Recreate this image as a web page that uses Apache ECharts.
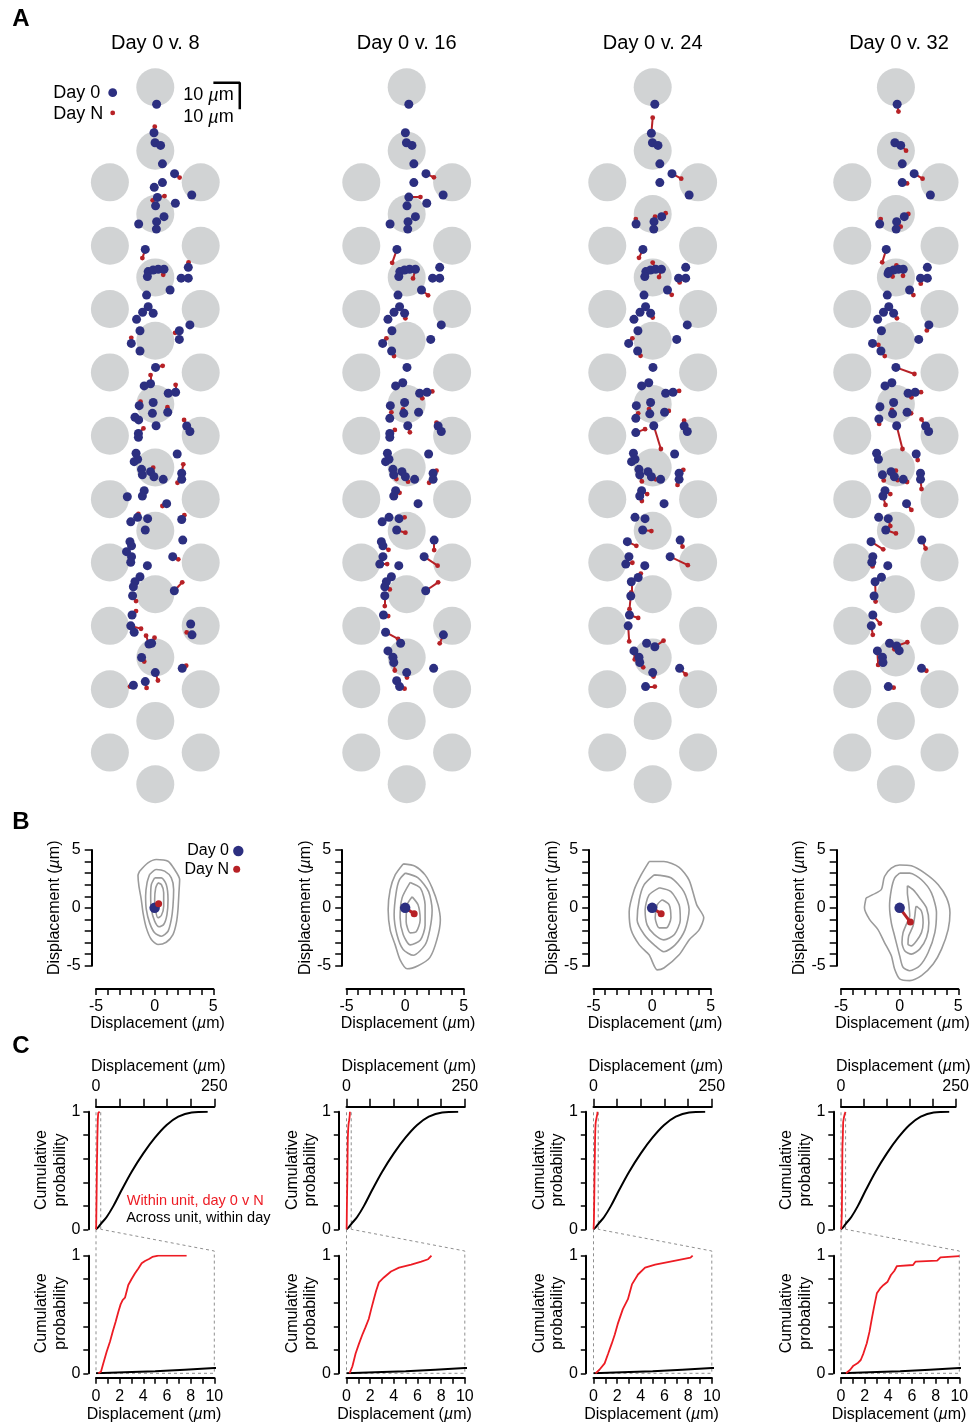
<!DOCTYPE html>
<html><head><meta charset="utf-8">
<script src="https://cdn.jsdelivr.net/npm/echarts@6/dist/echarts.min.js"></script>
<style>html,body{margin:0;padding:0;background:#fff}#c{width:972px;height:1425px}</style>
</head><body><div id="c"></div>
<script>
// ---------------- DATA ----------------
const titles = ['Day 0 v. 8', 'Day 0 v. 16', 'Day 0 v. 24', 'Day 0 v. 32'];
// recording-site layout (µm): centre column depths, side columns depths, side x
const siteCenterDepth = [0, 24, 48, 72, 96, 120, 144, 168, 192, 216, 240, 264];
const siteSideDepth = [36, 60, 84, 108, 132, 156, 180, 204, 228, 252];
const siteSideX = [-17.2, 17.2];
const scaleBarUm = 10;
// units: [x day0, depth day0, dx to day N, ddepth to day N]  (µm)
const unitsDay8 = [
[0.5,6.4,0,0],[-0.5,17.2,0.3,-2.3],[-0.1,21.0,0,0],[2.0,22.0,0,0],[2.7,29.0,0,0],[7.3,32.7,1.9,1.5],[2.7,36.1,0,0],[-0.4,37.9,0,0],[13.8,40.8,0,0],[0.8,41.7,2.7,-0.5],[0.1,44.9,-1.1,-2.1],[7.6,43.9,0,0],[3.3,49.0,0,0],[0.5,50.9,0,0],[-6.3,51.8,0,0],[0.4,53.7,0,0],[-3.8,61.4,-1.1,3.3],[12.5,68.2,0.1,-1.9],[-2.7,69.8,0,0],[-0.8,69.2,0,0],[1.1,68.9,0,0],[3.3,68.9,-0.3,2.1],[-3.0,71.7,0,0],[9.8,72.3,0,0],[12.5,72.3,0,0],[5.6,76.8,0,0],[-3.3,78.7,0,0],[-2.7,83.1,0,0],[-4.8,85.2,0,0],[-0.8,85.6,0,0],[-7.1,87.9,0,0],[13.1,90.0,0,0],[-5.8,92.2,0,0],[9.1,92.2,-1.6,0.8],[9.1,95.5,0,0],[-9.1,97.0,0,-2.1],[-5.8,99.9,0,0],[0.1,106.1,2.7,-0.6],[-1.8,112.3,0,-3.3],[-4.2,113.1,0,0],[4.9,115.9,0,0],[7.7,115.5,0,-2.8],[-0.8,119.4,0,0],[-6.1,120.6,0.5,-1.5],[-1.1,123.5,0,0],[4.7,123.1,-0.1,-1.9],[-7.7,125.0,0,0],[-6.3,126.0,0,0],[0.3,128.2,0,0],[11.9,128.3,-1.0,-2.3],[-6.4,131.1,1.9,-1.9],[-6.4,132.6,0,0],[13.1,130.4,0,0],[-7.3,138.6,0,0],[-8.0,141.8,0,0],[-6.7,140.9,0,0],[8.3,138.9,0,0],[-5.2,144.7,0,0],[-4.9,146.8,0,0],[-1.8,145.6,1.0,-1.5],[-0.5,147.5,0,0],[3.0,148.5,0,0],[10.0,146.2,0.6,-3.4],[10.0,148.5,-1.6,1.3],[-4.2,152.8,0,0],[-4.9,154.8,0,0],[-10.6,155.1,0,0],[4.3,157.7,-1.6,0.9],[-9.3,164.6,0,0],[-6.7,162.9,0.3,-1.3],[-2.9,163.4,0,0],[-3.8,167.7,0,0],[10.0,163.7,1.0,-1.6],[10.4,171.5,0,0],[-9.6,172.1,0,0],[-9.0,173.7,0,0],[-10.9,175.9,0,0],[-9.0,177.8,0,0],[-9.3,179.9,0,0],[6.6,177.8,2.1,1.0],[-3.0,181.2,0,0],[-5.8,185.4,0,0],[-7.7,187.3,0,0],[-8.3,189.2,0,0],[-8.6,192.6,1.3,2.0],[7.2,190.7,3.0,-3.2],[-8.8,199.9,1.5,-1.5],[-9.3,204.0,3.9,1.1],[-8.0,206.4,0,0],[13.4,203.3,0,0],[13.9,207.4,-2.0,-0.9],[-2.4,210.9,-1.1,-3.2],[-1.4,210.6,1.1,-2.1],[-5.2,216.0,1.0,1.5],[0.0,221.7,1.0,3.0],[10.2,220.1,1.5,-1.0],[-3.8,225.1,0.5,2.4],[-8.3,226.5,-1.3,0.5]
];
const unitsDay16 = [
[0.8,6.4,0,0],[-0.5,17.2,0,0],[-0.1,21.0,0,0],[2.0,22.0,0,0],[2.7,29.0,0,0],[7.3,32.7,3.0,1.4],[2.7,36.1,0,0],[13.8,40.8,0,0],[0.8,41.6,4.4,0],[0.1,44.9,0,0],[7.6,43.9,0,0],[3.3,49.0,0,0],[0.5,50.9,0,0],[-6.3,51.8,0,0],[0.4,53.7,0,0],[-3.7,61.4,-1.8,5.1],[12.5,68.2,0,0],[-2.6,69.8,0,0],[-0.8,69.2,0,0],[1.1,68.9,0,0],[3.3,68.9,-0.9,3.5],[-3.0,71.7,0,0],[9.8,72.3,0,0],[12.5,72.3,0,0],[5.6,76.8,2.5,2.0],[-3.3,78.7,0,0],[-2.7,83.1,0,0],[-4.8,85.2,0,0],[-0.8,85.6,0.3,1.9],[-7.1,87.9,0,0],[13.1,90.0,0,0],[-5.6,92.2,0,0],[9.1,95.5,0,0],[-9.1,97.0,1.4,-1.9],[-5.7,99.9,0.9,1.9],[0.1,106.1,0,0],[-1.5,111.9,0,0],[-4.2,113.1,0,0],[4.9,115.9,1.0,1.9],[7.7,115.5,2.0,-0.3],[-0.8,119.4,0,0],[-6.2,120.6,0,0],[-1.1,123.5,-0.3,-1.5],[4.5,123.1,0,0],[-6.4,125.4,0.6,-2.3],[0.4,128.2,0.8,2.5],[11.9,128.3,-0.6,-1.3],[-6.4,131.1,1.9,-1.3],[-6.4,132.6,0,0],[13.1,130.4,0,0],[-7.3,138.6,0,0],[-8.0,141.8,0,0],[-6.7,140.9,0,0],[8.3,138.9,0,0],[-5.2,144.7,0,0],[-4.9,146.8,1.0,1.6],[-1.8,145.6,0,0],[-0.5,147.5,1.0,1.9],[3.0,148.5,0,0],[10.0,146.2,1.3,-1.0],[10.0,148.5,-1.5,1.3],[-4.2,152.8,1.5,0.8],[-4.9,154.8,0,0],[4.3,157.7,0,0],[-9.3,164.6,0,0],[-6.7,162.9,0,0],[-2.9,163.4,2.1,-0.5],[-3.8,167.7,3.3,1.0],[10.4,171.5,0,3.8],[-9.6,172.1,0,0],[-9.0,173.7,2.1,1.5],[-9.0,177.8,0,0],[-10.2,180.6,2.8,0],[6.6,177.8,5.1,3.4],[-3.0,181.2,0,0],[-5.8,185.4,0,0],[-7.7,187.3,0,0],[-8.3,189.2,1.9,1.0],[-8.3,192.6,0,3.9],[7.2,190.7,4.7,-3.2],[-8.8,199.9,1.8,0.4],[-8.0,206.4,4.7,2.5],[13.9,207.4,-1.4,3.2],[-2.3,210.6,0,0],[-7.1,213.5,0,0],[-5.2,215.9,0,0],[-4.9,217.9,0.4,3.0],[0.0,221.7,0.1,1.9],[10.2,220.1,0,0],[-3.8,224.8,0,0],[-2.7,227.0,1.9,0.8]
];
const unitsDay24 = [
[0.8,6.4,0,0],[-0.5,17.4,0.5,-5.9],[-0.1,21.0,0,0],[2.0,22.0,0,0],[2.7,29.0,0,0],[7.3,32.7,3.5,1.9],[2.7,36.1,0,0],[13.8,40.8,0,0],[-6.3,51.8,-0.1,-1.9],[0.5,50.9,0.4,-1.9],[0.4,53.7,0,0],[3.4,49.0,1.5,-1.3],[-3.7,61.4,-1.5,3.2],[12.5,68.2,0,0],[-2.6,69.8,0,0],[-0.8,69.2,0,0],[1.1,68.9,-1.1,-2.5],[3.3,68.9,-0.9,3.0],[-3.0,71.7,0,0],[9.8,72.3,0.4,1.6],[12.5,72.3,0,0],[5.6,76.8,1.6,1.8],[-3.3,78.7,0,0],[-2.7,83.1,0,0],[-4.8,85.2,0,0],[-0.8,85.6,0.8,1.6],[-7.1,87.9,0,0],[13.1,90.0,0,0],[-5.6,92.2,0,0],[9.1,95.5,0,0],[-9.1,97.0,1.4,-1.9],[-5.7,99.9,1.1,1.8],[0.1,106.1,0,0],[-1.5,111.9,0,0],[-4.2,113.1,0,0],[4.9,115.9,0,0],[7.7,115.5,2.3,-0.5],[-0.8,119.4,0,0],[-6.2,120.6,0,0],[-1.1,123.7,-0.3,-1.8],[4.5,123.1,1.6,-0.5],[-6.4,125.4,0.9,-1.9],[0.4,128.2,2.7,8.8],[11.9,128.3,0,-2.0],[-6.4,130.8,3.5,-1.3],[13.1,130.4,0,0],[-7.3,138.6,0,0],[-8.0,141.8,0,0],[-6.7,140.9,0,0],[8.3,138.9,0,0],[-5.2,144.7,0,0],[-4.9,146.8,0.8,2.5],[-1.8,145.6,0,0],[-0.5,147.5,1.6,1.0],[3.0,148.5,0,0],[10.0,146.2,1.6,-1.3],[10.0,148.5,-0.6,2.1],[-4.2,152.8,2.1,1.3],[-4.9,154.8,0.8,1.9],[4.3,157.7,0,0],[-6.7,162.9,0,0],[-2.9,163.4,0,0],[-3.8,167.7,3.3,0.4],[10.4,171.5,0.9,2.5],[-9.6,172.1,3.4,1.6],[-9.0,177.8,0,0],[-10.2,180.6,2.5,-0.5],[6.6,177.8,6.7,3.2],[-3.0,181.2,0,0],[-5.5,185.7,1.0,-1.5],[-8.1,187.3,0,4.0],[-8.3,192.7,-0.5,5.0],[-8.8,199.9,3.3,1.1],[-9.3,204.0,0.4,5.9],[-2.3,210.6,0,0],[0.8,211.9,3.3,-2.3],[-7.1,213.5,0.3,3.2],[-5.2,215.9,0,0],[-4.9,217.9,1.3,1.8],[0.0,221.7,0.3,1.5],[10.2,220.1,2.3,2.3],[-2.7,227.0,3.5,0]
];
const unitsDay32 = [
[0.5,6.4,0.5,2.8],[-0.4,21.0,0,0],[1.9,22.0,2.1,2.0],[2.5,29.0,0,0],[7.2,32.7,3.3,1.9],[2.5,36.1,1.9,0.3],[13.6,40.8,0,0],[-6.4,51.8,0.4,-1.9],[0.3,50.9,1.6,1.9],[0.1,53.7,0,0],[3.3,49.0,1.6,-1.0],[-3.8,61.4,-1.6,4.9],[12.4,68.2,0,0],[-2.8,69.8,0,0],[-0.9,69.2,-0.4,2.5],[1.0,68.9,-0.8,-1.4],[2.9,68.9,-0.1,2.5],[-3.1,70.6,0,0],[9.7,72.3,0.1,2.1],[12.4,72.3,0,0],[5.4,76.8,1.5,1.9],[-3.4,78.7,0,0],[-2.8,83.1,0,0],[-4.9,85.2,0,0],[-0.9,85.6,1.3,1.9],[-7.2,87.9,0,0],[13.0,90.0,-0.8,2.1],[-5.7,92.2,0,0],[9.0,95.5,0,0],[-9.2,97.0,2.3,0.6],[-5.9,99.9,1.5,1.9],[0.0,106.1,7.3,2.5],[-1.6,111.9,0,0],[-4.3,113.1,0,0],[4.8,115.9,1.3,1.5],[7.6,115.5,2.3,0],[-0.9,119.4,0,0],[-6.3,121.0,0,0],[-1.3,123.7,-0.3,-1.5],[4.4,123.1,1.6,0.4],[-6.7,125.6,0.1,1.9],[0.3,128.2,2.3,8.8],[11.7,128.3,-1.6,-2.5],[12.9,130.4,0,0],[-7.6,138.6,0,0],[-6.9,140.9,0,0],[8.0,138.9,0.6,2.3],[-5.3,146.8,0.5,2.1],[-1.9,145.6,1.9,-0.4],[-0.6,147.5,1.3,1.3],[2.9,148.5,1.5,1.0],[9.7,146.2,0,0],[9.7,148.5,0.4,3.7],[-4.3,152.8,2.1,1.3],[-5.1,154.8,1.0,3.4],[4.2,157.7,1.9,2.4],[-6.8,162.9,0,0],[-3.0,163.4,0.8,2.8],[-4.0,167.7,4.0,1.3],[10.2,171.5,1.5,3.2],[-9.8,172.1,4.8,2.9],[-9.1,177.8,0,0],[-9.5,179.9,0.3,1.6],[-3.2,181.2,0,0],[-5.7,185.6,0,0],[-8.2,187.3,0.2,5.3],[-8.6,192.7,0.6,2.1],[-9.1,199.9,2.8,3.2],[-9.7,204.0,0.6,3.4],[-2.5,210.6,1.9,2.3],[0.3,211.6,4.2,-1.4],[1.3,213.4,0,0],[-7.3,213.5,0.3,5.3],[-5.3,215.9,0,0],[-5.1,217.9,0,0],[10.1,220.1,1.9,0.9],[-3.0,227.0,2.1,0.4]
];
const unitsByDay = [unitsDay8, unitsDay16, unitsDay24, unitsDay32];

// Panel B: mean displacement (µm) and density contours (µm)
const meanShift = [[0.34, 0.35], [0.77, -0.52], [0.77, -0.52], [0.91, -1.23]];
const contoursDay8 = [
 [[-1.28,3.17],[-0.57,3.89],[0.14,4.18],[1.14,4.03],[1.70,3.31],[2.13,2.45],[2.07,1.30],[1.99,-0.14],[1.85,-1.30],[1.56,-2.31],[0.99,-2.97],[0.28,-3.17],[-0.28,-2.74],[-0.71,-1.73],[-0.99,-0.43],[-1.14,0.72],[-1.34,1.87],[-1.42,2.79]],
 [[-0.43,2.88],[0.14,3.31],[0.85,3.17],[1.42,2.59],[1.62,1.58],[1.56,0.14],[1.42,-1.0],[1.14,-2.02],[0.57,-2.45],[0,-2.16],[-0.43,-1.3],[-0.71,-0.14],[-0.77,1.0],[-0.65,2.16]],
 [[0,2.59],[0.57,2.59],[0.99,2.02],[1.14,0.72],[1.05,-0.58],[0.77,-1.44],[0.37,-1.64],[0,-1.15],[-0.28,-0.14],[-0.34,1.0],[-0.28,2.02]],
 [[0.28,2.16],[0.57,2.02],[0.77,1.3],[0.77,0.14],[0.57,-0.66],[0.28,-0.86],[0.09,-0.29],[0,0.72],[0.09,1.73]]
];
const contoursDay16 = [
 [[-0.17,3.8],[0.85,3.6],[1.7,2.85],[2.3,1.73],[2.8,0.26],[3.0,-1.04],[2.7,-2.77],[2.1,-4.3],[1.1,-5.0],[0.17,-5.27],[-0.43,-4.5],[-0.85,-3.2],[-1.28,-1.9],[-1.45,-0.17],[-1.28,1.56],[-0.85,2.85]],
 [[0,3.0],[1.1,2.6],[2.0,1.4],[2.3,-0.2],[2.1,-1.9],[1.7,-3.2],[0.7,-4.1],[-0.17,-3.6],[-0.7,-2.3],[-0.94,-0.6],[-0.77,1.3],[-0.5,2.4]],
 [[0.43,2.2],[1.3,1.7],[1.7,0.26],[1.7,-1.5],[1.3,-2.77],[0.43,-3.2],[-0.17,-2.3],[-0.43,-0.86],[-0.26,0.86]],
 [[0.6,0.95],[1.1,0.26],[1.28,-1.04],[0.94,-2.07],[0.43,-2.16],[0.085,-1.2],[0.17,0.26]]
];
const contoursDay24 = [
 [[-0.26,4.0],[1.0,4.0],[2.3,3.5],[3.15,2.4],[3.8,0.26],[4.4,-0.86],[4.0,-1.9],[3.15,-2.77],[2.3,-4.06],[1.0,-5.2],[0.43,-5.36],[-0.26,-4.06],[-1.1,-3.2],[-1.8,-1.9],[-1.96,-0.35],[-1.53,1.56],[-0.94,2.85]],
 [[0.17,2.85],[1.6,2.6],[2.7,1.4],[3.15,-0.17],[2.8,-1.9],[1.96,-3.2],[1.0,-3.8],[0.17,-3.2],[-0.68,-2.3],[-1.28,-1.04],[-1.1,0.7],[-0.68,2.0]],
 [[0.6,1.73],[1.6,1.4],[2.3,0.26],[2.4,-1.04],[1.9,-2.3],[1.0,-2.77],[0.17,-2.3],[-0.43,-1.47],[-0.6,-0.17],[-0.26,1.12]],
 [[0.85,0.7],[1.45,0.26],[1.6,-0.86],[1.2,-1.73],[0.6,-1.73],[0.26,-0.86],[0.43,0.26]]
];
const contoursDay32 = [
 [[-2.86,0.86],[-2.29,1.14],[-1.57,1.57],[-1.29,2.71],[-0.71,3.43],[0,3.71],[1.0,3.63],[2.14,3.0],[3.29,2.0],[4.0,0.86],[4.29,-0.43],[4.14,-1.86],[3.57,-3.57],[2.86,-4.86],[1.86,-5.86],[0.86,-6.29],[0,-6.14],[-0.43,-5.29],[-0.71,-4.14],[-1.29,-3.0],[-1.86,-1.86],[-2.57,-1.0],[-3.0,0]],
 [[0,3.0],[0.86,3.0],[1.86,2.43],[2.71,1.29],[3.14,-0.43],[3.0,-2.14],[2.43,-3.86],[1.71,-5.0],[0.86,-5.43],[0.29,-5.14],[0,-4.14],[-0.43,-2.43],[-0.71,-1.29],[-0.86,0.14],[-0.71,1.57],[-0.43,2.57]],
 [[0.66,1.91],[1.14,1.57],[1.71,0.86],[2.29,0],[2.49,-1.29],[2.29,-2.57],[1.71,-3.57],[1.0,-4.0],[0.43,-3.71],[0.2,-3.0],[0.29,-2.14],[0.57,-1.43],[0.86,-0.71],[0.77,0.43],[0.66,1.29]],
 [[1.43,0.14],[1.86,-0.29],[2.0,-1.29],[1.86,-2.14],[1.43,-2.86],[1.0,-3.29],[0.71,-3.14],[0.77,-2.43],[1.14,-1.57],[1.29,-0.71],[1.37,0]]
];
const contoursByDay = [contoursDay8, contoursDay16, contoursDay24, contoursDay32];

// Panel C: cumulative distributions, [displacement µm, probability]
const withinDay8 = [[0.2,0],[0.42,0.014],[0.62,0.085],[0.90,0.184],[1.18,0.269],[1.41,0.354],[1.66,0.439],[1.89,0.524],[2.08,0.586],[2.25,0.623],[2.45,0.643],[2.73,0.751],[3.01,0.802],[3.30,0.850],[3.58,0.892],[3.86,0.935],[4.14,0.955],[4.48,0.972],[4.76,0.989],[5.27,1.0],[7.66,1.0]];
const withinDay16 = [[0.26,0],[0.5,0.06],[0.77,0.168],[1.05,0.25],[1.37,0.336],[1.6,0.39],[1.88,0.462],[2.1,0.55],[2.31,0.63],[2.5,0.7],[2.74,0.773],[3.16,0.815],[3.76,0.866],[4.44,0.899],[5.47,0.924],[6.32,0.95],[6.9,0.97],[7.18,1.0]];
const withinDay24 = [[0.17,0],[0.5,0.03],[0.94,0.084],[1.25,0.17],[1.54,0.252],[1.8,0.33],[2.05,0.42],[2.48,0.546],[2.91,0.63],[3.25,0.756],[3.76,0.84],[4.36,0.899],[5.21,0.924],[6.5,0.95],[8.2,0.983],[8.38,1.0]];
const withinDay32 = [[0.42,0],[0.76,0.028],[1.05,0.065],[1.39,0.085],[1.67,0.113],[1.90,0.170],[2.18,0.255],[2.41,0.354],[2.61,0.467],[2.80,0.567],[3.03,0.680],[3.31,0.722],[3.60,0.751],[3.94,0.779],[4.22,0.836],[4.50,0.870],[4.73,0.912],[6.09,0.921],[6.29,0.949],[8.13,0.958],[8.41,0.986],[10,0.997]];
const withinByDay = [withinDay8, withinDay16, withinDay24, withinDay32];
const acrossUnit = [[0,0],[5,0.018],[10,0.045],[22.5,0.105],[36.6,0.197],[54.2,0.334],[75.4,0.49],[100,0.646],[124.6,0.779],[149.3,0.887],[173.9,0.958],[202.1,0.994],[236,1.0]];

// ---------------- STYLE / LAYOUT ----------------
const FONT = '"Liberation Sans", Arial, Helvetica, sans-serif';
const BLUE = '#2c2f80', RED_A = '#b72126', RED_C = '#ed1c24', SITE = '#d1d3d4', CONT = '#9b9b9b', DASH = '#8f8f8f';
const S = 2.64, AY0 = 87.3;
const colA = [155.3, 406.7, 652.7, 899.0];
const colOff = [0, 250.5, 497.5, 745];
const xMaxA = [35, 30, 30, 30];

const grids = [], xAxes = [], yAxes = [], series = [];
const axLine = {show: true, onZero: false, lineStyle: {color: '#000', width: 2}};
const tick = len => ({show: true, inside: false, length: len, lineStyle: {color: '#000', width: 1.5}});
const lab = (fmt, margin) => ({show: true, formatter: fmt, margin, color: '#000', fontSize: 16, fontFamily: FONT});
const noSplit = {show: false};

// Panel A grids 0-3
for (let c = 0; c < 4; c++) {
  grids.push({left: colA[c] - 30 * S, top: AY0 - 8 * S, width: (xMaxA[c] + 30) * S, height: 280 * S});
  xAxes.push({gridIndex: c, type: 'value', min: -30, max: xMaxA[c], show: false});
  yAxes.push({gridIndex: c, type: 'value', min: -8, max: 272, inverse: true, show: false});
}
// Panel B grids 4-7
for (let c = 0; c < 4; c++) {
  const o = colOff[c];
  grids.push({left: 96 + o, top: 850, width: 117.3, height: 115.7});
  xAxes.push({gridIndex: 4 + c, type: 'value', min: -5, max: 5, interval: 1, position: 'bottom', offset: 23.3,
    axisLine: axLine, axisTick: tick(6), axisLabel: lab(v => (v % 5 === 0 ? String(v) : ''), 10), splitLine: noSplit});
  yAxes.push({gridIndex: 4 + c, type: 'value', min: -5, max: 5, interval: 1, position: 'left', offset: 4.3,
    axisLine: axLine, axisTick: tick(7), axisLabel: lab(v => (v % 5 === 0 ? String(v) : ''), 11), splitLine: noSplit});
}
// Panel C top grids 8-11, bottom 12-15
for (let c = 0; c < 4; c++) {
  const o = colOff[c];
  grids.push({left: 96 + o, top: 1111.7, width: 118.3, height: 117.6});
  xAxes.push({gridIndex: 8 + c, type: 'value', min: 0, max: 250, interval: 50, position: 'top', offset: 5,
    axisLine: axLine, axisTick: tick(8), axisLabel: lab(v => (v === 0 || v === 250 ? String(v) : ''), 12), splitLine: noSplit});
  yAxes.push({gridIndex: 8 + c, type: 'value', min: 0, max: 1, interval: 0.2, position: 'left', offset: 7.7,
    axisLine: axLine, axisTick: tick(5), axisLabel: lab(v => (Math.abs(v) < 1e-9 ? '0' : Math.abs(v - 1) < 1e-9 ? '1' : ''), 8), splitLine: noSplit});
}
for (let c = 0; c < 4; c++) {
  const o = colOff[c];
  grids.push({left: 96 + o, top: 1255.7, width: 118.3, height: 117.6});
  xAxes.push({gridIndex: 12 + c, type: 'value', min: 0, max: 10, interval: 1, position: 'bottom', offset: 4.4,
    axisLine: axLine, axisTick: tick(6), axisLabel: lab(v => (v % 2 === 0 ? String(v) : ''), 11), splitLine: noSplit});
  yAxes.push({gridIndex: 12 + c, type: 'value', min: 0, max: 1, interval: 0.2, position: 'left', offset: 7.7,
    axisLine: axLine, axisTick: tick(5), axisLabel: lab(v => (Math.abs(v) < 1e-9 ? '0' : Math.abs(v - 1) < 1e-9 ? '1' : ''), 8), splitLine: noSplit});
}

// ---------------- SERIES ----------------
const sites = [
  ...siteCenterDepth.map(y => [0, y]),
  ...siteSideDepth.flatMap(y => siteSideX.map(x => [x, y]))
];
for (let c = 0; c < 4; c++) {
  const u = unitsByDay[c];
  const ax = {xAxisIndex: c, yAxisIndex: c, silent: true, clip: false};
  series.push(Object.assign({type: 'scatter', data: sites, symbol: 'circle', symbolSize: 38, itemStyle: {color: SITE, opacity: 1}, z: 1}, ax));
  series.push(Object.assign({type: 'lines', coordinateSystem: 'cartesian2d', polyline: false,
    data: u.filter(d => d[2] !== 0 || d[3] !== 0).map(d => ({coords: [[d[0], d[1]], [d[0] + d[2], d[1] + d[3]]]})),
    lineStyle: {color: RED_A, width: 2, opacity: 1, curveness: 0}, z: 2}, ax));
  series.push(Object.assign({type: 'scatter', data: u.map(d => [d[0] + d[2], d[1] + d[3]]), symbol: 'circle', symbolSize: 4.8, itemStyle: {color: RED_A, opacity: 1}, z: 3}, ax));
  series.push(Object.assign({type: 'scatter', data: u.map(d => [d[0], d[1]]), symbol: 'circle', symbolSize: 9, itemStyle: {color: BLUE, opacity: 1}, z: 4}, ax));
}
// scale bar (10 µm) in first probe panel
const sbX = 32, sbY = -1.7;
series.push({type: 'line', xAxisIndex: 0, yAxisIndex: 0, clip: false, silent: true, symbol: 'none', z: 5,
  data: [[sbX - scaleBarUm, sbY], [sbX, sbY], [sbX, sbY + scaleBarUm]], lineStyle: {color: '#000', width: 2.5}});

for (let c = 0; c < 4; c++) {
  const g = 4 + c;
  const ax = {xAxisIndex: g, yAxisIndex: g, silent: true, clip: false};
  contoursByDay[c].forEach(pts => {
    series.push(Object.assign({type: 'line', data: [...pts, pts[0]], symbol: 'none', smooth: 0.25,
      lineStyle: {color: CONT, width: 1.6}, z: 2}, ax));
  });
  series.push(Object.assign({type: 'line', data: [[0, 0], meanShift[c]], symbol: 'none', lineStyle: {color: RED_A, width: 3}, z: 3}, ax));
  series.push(Object.assign({type: 'scatter', data: [[0, 0]], symbolSize: 10.5, itemStyle: {color: BLUE, opacity: 1}, z: 4}, ax));
  series.push(Object.assign({type: 'scatter', data: [meanShift[c]], symbolSize: 7, itemStyle: {color: RED_A, opacity: 1}, z: 5}, ax));
}
for (let c = 0; c < 4; c++) {
  const gt = 8 + c, gb = 12 + c;
  const at = {xAxisIndex: gt, yAxisIndex: gt, silent: true};
  const ab = {xAxisIndex: gb, yAxisIndex: gb, silent: true};
  [[0, 0], [10, 0]].forEach(p => {
    series.push(Object.assign({type: 'line', data: [[p[0], 0], [p[0], 1]], symbol: 'none',
      lineStyle: {color: DASH, width: 1, type: [3, 3]}, z: 1}, at));
  });
  series.push(Object.assign({type: 'line', data: acrossUnit, symbol: 'none', smooth: 0.35, lineStyle: {color: '#000', width: 2}, z: 3}, at));
  series.push(Object.assign({type: 'line', data: withinByDay[c], symbol: 'none', lineStyle: {color: RED_C, width: 1.8}, z: 4}, at));
  series.push(Object.assign({type: 'line', data: acrossUnit, symbol: 'none', smooth: 0.35, lineStyle: {color: '#000', width: 2}, z: 3}, ab));
  series.push(Object.assign({type: 'line', data: withinByDay[c], symbol: 'none', lineStyle: {color: RED_C, width: 1.8}, z: 4}, ab));
}

const chart = echarts.init(document.getElementById('c'), null, {renderer: 'canvas', width: 972, height: 1425});
chart.setOption({animation: false, backgroundColor: '#fff', grid: grids, xAxis: xAxes, yAxis: yAxes, series});

// ---------------- TEXT / DECORATION ----------------
function T(x, y, text, size, o) {
  o = o || {};
  const al = o.align || 'left';
  const st = {text, fontFamily: FONT, fontSize: size, fontWeight: o.bold ? 'bold' : 'normal', fill: o.color || '#000',
    textAlign: al, textVerticalAlign: 'middle', align: al, verticalAlign: 'middle'};
  if (o.rich) st.rich = o.rich;
  if (o.lh) st.lineHeight = o.lh;
  return {type: 'text', x, y, rotation: o.rot || 0, silent: true, z: 100, style: st};
}
function um(prefix, suffix, size) {
  return {
    text: '{n|' + prefix + '}{i|\u00b5}{n|' + suffix + '}',
    rich: {n: {fontFamily: FONT, fontSize: size, fill: '#000'}, i: {fontFamily: FONT, fontSize: size, fontStyle: 'italic', fill: '#000'}}
  };
}
function UT(x, y, prefix, suffix, size, o) {
  const r = um(prefix, suffix, size);
  return T(x, y, r.text, size, Object.assign({}, o || {}, {rich: r.rich}));
}
const g = [];
g.push(T(21, 19, 'A', 24, {bold: true, align: 'center'}));
g.push(T(21, 822, 'B', 24, {bold: true, align: 'center'}));
g.push(T(21, 1046, 'C', 24, {bold: true, align: 'center'}));
for (let c = 0; c < 4; c++) g.push(T(colA[c], 43, titles[c], 20, {align: 'center'}));
// Panel A legend and scale bar labels
g.push(T(53.3, 92.7, 'Day 0', 18));
g.push(T(53.3, 113.6, 'Day N', 18));
g.push({type: 'circle', silent: true, z: 100, shape: {cx: 112.7, cy: 92.7, r: 4.4}, style: {fill: BLUE}});
g.push({type: 'circle', silent: true, z: 100, shape: {cx: 112.7, cy: 112.9, r: 2.4}, style: {fill: RED_A}});
g.push(UT(183.3, 95.5, '10 ', 'm', 18));
g.push(UT(183.3, 117.5, '10 ', 'm', 18));
// Panel B legend
g.push(T(229, 851, 'Day 0', 16, {align: 'right'}));
g.push(T(229, 869.5, 'Day N', 16, {align: 'right'}));
g.push({type: 'circle', silent: true, z: 100, shape: {cx: 238.3, cy: 851, r: 5.2}, style: {fill: BLUE}});
g.push({type: 'circle', silent: true, z: 100, shape: {cx: 236.7, cy: 869.3, r: 3.5}, style: {fill: RED_A}});
// axis names
for (let c = 0; c < 4; c++) {
  const o = colOff[c];
  g.push(UT(55 + o, 907.8, 'Displacement (', 'm)', 16, {align: 'center', rot: Math.PI / 2}));
  g.push(UT(157.5 + o, 1023.3, 'Displacement (', 'm)', 16, {align: 'center'}));
  g.push(UT(158.3 + o, 1066.7, 'Displacement (', 'm)', 16, {align: 'center'}));
  g.push(UT(154 + o, 1414.3, 'Displacement (', 'm)', 16, {align: 'center'}));
  g.push(T(51 + o, 1170, 'Cumulative\nprobability', 16, {align: 'center', rot: Math.PI / 2, lh: 18.5}));
  g.push(T(51 + o, 1313.3, 'Cumulative\nprobability', 16, {align: 'center', rot: Math.PI / 2, lh: 18.5}));
}
g.push(T(126.7, 1200.7, 'Within unit, day 0 v N', 14.5, {color: RED_C}));
g.push(T(126.2, 1218.3, 'Across unit, within day', 14.5));
// zoom connectors between top and bottom CDF panels
const P = (gi, pt) => chart.convertToPixel({gridIndex: gi}, pt);
for (let c = 0; c < 4; c++) {
  const gt = 8 + c, gb = 12 + c;
  const pts = [P(gt, [0, 0]), P(gb, [0, 0]), P(gb, [10, 0]), P(gb, [10, 1.04]), P(gt, [10, 0])];
  g.push({type: 'polyline', silent: true, z: 1, shape: {points: pts},
    style: {stroke: DASH, lineWidth: 1, lineDash: [3, 3], fill: null}});
}
chart.setOption({graphic: g});
</script></body></html>
